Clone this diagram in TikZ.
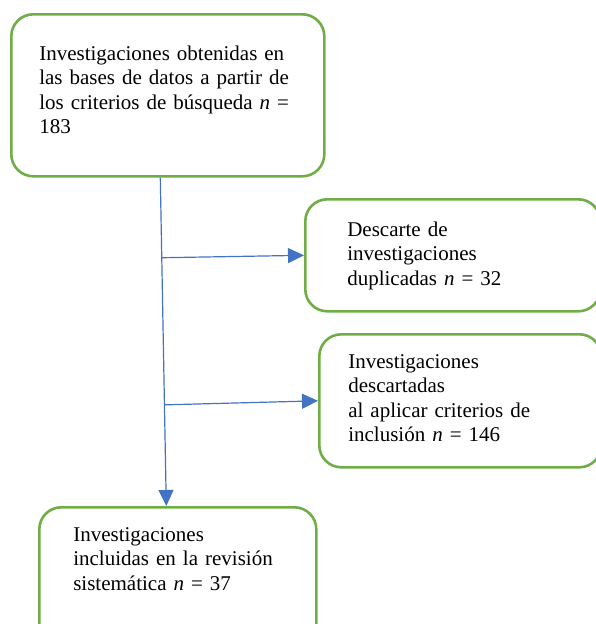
\documentclass[tikz,border=0pt]{standalone}
\usepackage{fontspec}
\setmainfont{Liberation Serif}
\usetikzlibrary{arrows.meta}
\usetikzlibrary{calc}
\definecolor{boxgreen}{RGB}{112,173,71}
\definecolor{lineblue}{RGB}{68,114,196}

\begin{document}
\begin{tikzpicture}[x=1pt, y=-1pt,
        box/.style={draw=boxgreen, line width=2.6pt, rounded corners=22pt, align=left,
            anchor=north west, inner ysep=0pt, font=\fontsize{21}{24.5}\selectfont},
        flow/.style={draw=lineblue, line width=1.2pt, -{Triangle[length=16pt,width=15pt]}}]
            \clip (0,0) rectangle (596,624);

            \node[box, text width=257pt, inner xsep=28pt, text height=46pt, text depth=116pt] (search) at (10,13)
                {Investigaciones obtenidas en\\las bases de datos a partir de\\los criterios de búsqueda \textit{n} =\\183};
            \node[box, text width=211pt, inner xsep=42pt, text height=37pt, text depth=75pt] (dup) at (304,198)
                {Descarte de\\investigaciones\\duplicadas \textit{n} = 32};
            \node[box, text width=224pt, inner xsep=29pt, text height=34pt, text depth=99pt] (excl) at (318,333)
                {Investigaciones\\descartadas\\al aplicar criterios de\\inclusión \textit{n} = 146};
            \node[box, text width=209pt, inner xsep=34pt, text height=34pt, text depth=110pt] (incl) at (38,506)
                {Investigaciones\\incluidas en la revisión\\sistemática \textit{n} = 37};

            \coordinate (top) at ([xshift=-7.5pt]search.south);
            \coordinate (bot) at ([xshift=-11.5pt]incl.north);
            \coordinate (b1) at ($(top)!0.244!(bot)$);
            \coordinate (b2) at ($(top)!0.692!(bot)$);

            \draw[flow] (top) -- (bot);
            \draw[flow] (b1) -- (dup.west);
            \draw[flow] (b2) -- (excl.west);
        \end{tikzpicture}
\end{document}
